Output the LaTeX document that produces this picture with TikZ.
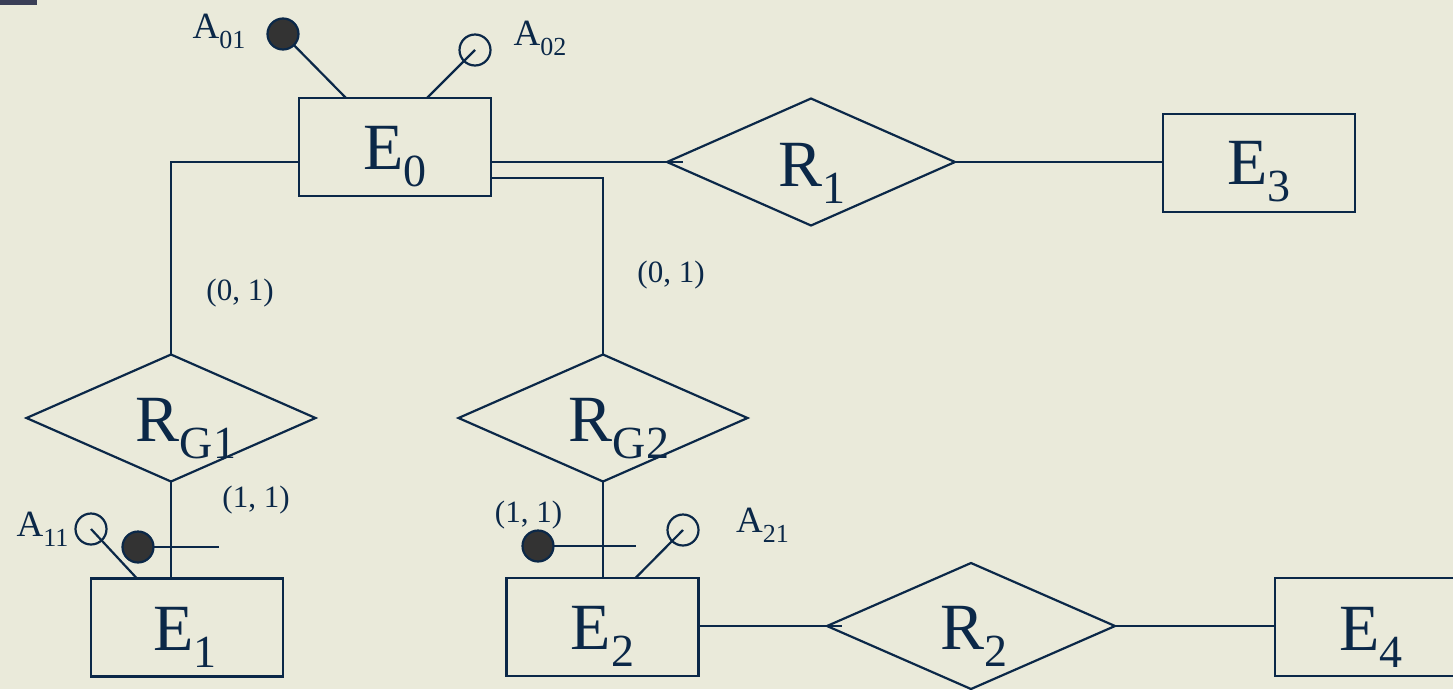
\documentclass[tikz,border=0pt]{standalone}
\usepackage{fontspec}
\setmainfont{Liberation Serif}
\usetikzlibrary{shapes.geometric}
\definecolor{ink}{HTML}{0B2848}
\definecolor{bg}{HTML}{EAEADA}
\definecolor{dotfill}{HTML}{333333}
\definecolor{corner}{HTML}{3A3F57}
\newcommand{\Ebig}[2]{{\fontsize{66}{66}\selectfont #1\raisebox{-17pt}{\fontsize{46}{46}\selectfont #2}}}
\newcommand{\Asml}[2]{{\fontsize{37}{37}\selectfont #1\raisebox{-10pt}{\fontsize{26}{26}\selectfont #2}}}
\tikzset{
  ent/.style={draw=ink, rectangle, minimum width=192pt, minimum height=98pt, inner sep=0pt, outer sep=0pt},
  rel/.style={draw=ink, diamond, inner sep=0pt, outer sep=0pt, minimum width=289pt, minimum height=127pt},
  fulldot/.style={draw=ink, fill=dotfill, circle, minimum size=31pt, inner sep=0pt, outer sep=0pt},
  opendot/.style={draw=ink, circle, minimum size=31pt, inner sep=0pt, outer sep=0pt},
  card/.style={text=ink, font=\fontsize{31}{31}\selectfont, inner sep=0pt},
  attr/.style={text=ink, inner sep=0pt},
  conn/.style={draw=ink, line width=2.2pt},
}
\begin{document}
\begin{tikzpicture}[x=1pt, y=-1pt, line width=2.2pt]
\fill[bg] (0,0) rectangle (1453,689);
\useasboundingbox (0,0) rectangle (1453,689);
\clip (0,0) rectangle (1453,689);
\fill[corner] (0,0) rectangle (37,5);

% entities
\node[ent, label={[text=ink, yshift=-10pt]center:\Ebig{E}{0}}] (E0) at (395,147) {};
\node[ent, label={[text=ink, yshift=-9pt]center:\Ebig{E}{3}}] (E3) at (1259,163) {};
\node[ent, label={[text=ink, yshift=-10pt, xshift=-2pt]center:\Ebig{E}{1}}] (E1) at (187,627.5) {};
\node[ent, label={[text=ink, yshift=-9pt]center:\Ebig{E}{2}}] (E2) at (602.5,627) {};
\node[ent, label={[text=ink, yshift=-10pt]center:\Ebig{E}{4}}] (E4) at (1371,627) {};

% relationships
\node[rel, minimum width=288pt, label={[text=ink, yshift=-11pt, xshift=1pt]center:\Ebig{R}{1}}] (R1) at (811,162) {};
\node[rel, label={[text=ink, yshift=-11pt, xshift=15pt]center:\Ebig{R}{G1}}] (RG1) at (171,418) {};
\node[rel, label={[text=ink, yshift=-11pt, xshift=16pt]center:\Ebig{R}{G2}}] (RG2) at (603,418) {};
\node[rel, minimum width=288pt, minimum height=126pt, label={[text=ink, yshift=-10pt, xshift=3pt]center:\Ebig{R}{2}}] (R2) at (971,626) {};

% connectors
\draw[conn] ([yshift=-15pt]E0.west) -| (RG1.north);
\draw[conn] ([yshift=-15pt]E0.east) -- (R1.west) -- ++(16,0);
\draw[conn] ([yshift=-31pt]E0.east) -| (RG2.north);
\draw[conn] (R1.east) -- (R1.east -| E3.west);
\draw[conn] (RG1.south) -- (RG1.south |- E1.north);
\draw[conn] (RG2.south) -- (RG2.south |- E2.north);
\draw[conn] (E2.east |- R2.west) -- (R2.west) -- ++(15,0);
\draw[conn] (R2.east) -- (R2.east -| E4.west);

% attributes of E0
\node[fulldot] (a01) at (283,34) {};
\draw[conn] (a01) -- ([xshift=47pt]E0.north west);
\node[opendot] (a02) at (475,50) {};
\draw[conn] (a02.center) -- ([xshift=128pt]E0.north west);
\node[attr] (la01) at (219,31.5) {\Asml{A}{01}};
\node[attr] (la02) at (540,38) {\Asml{A}{02}};

% attributes of E1
\node[opendot] (a11) at (91,529) {};
\draw[conn] (a11.center) -- ([xshift=46pt]E1.north west);
\node[attr] (la11) at (42.5,529) {\Asml{A}{11}};
\node[fulldot] (k1) at (138,547) {};
\coordinate (k1e) at (219,547);
\draw[conn] (k1) -- (k1e);

% attributes of E2
\node[opendot] (a21) at (683,530) {};
\draw[conn] (a21.center) -- ([xshift=129pt]E2.north west);
\node[attr] (la21) at (762.5,525.5) {\Asml{A}{21}};
\node[fulldot] (k2) at (538,546) {};
\coordinate (k2e) at (636,546);
\draw[conn] (k2) -- (k2e);

% cardinalities
\node[card] (c1) at (240,293) {(0, 1)};
\node[card] (c2) at (671,275) {(0, 1)};
\node[card] (c3) at (256,500) {(1, 1)};
\node[card] (c4) at (528.5,515) {(1, 1)};
\end{tikzpicture}
\end{document}
